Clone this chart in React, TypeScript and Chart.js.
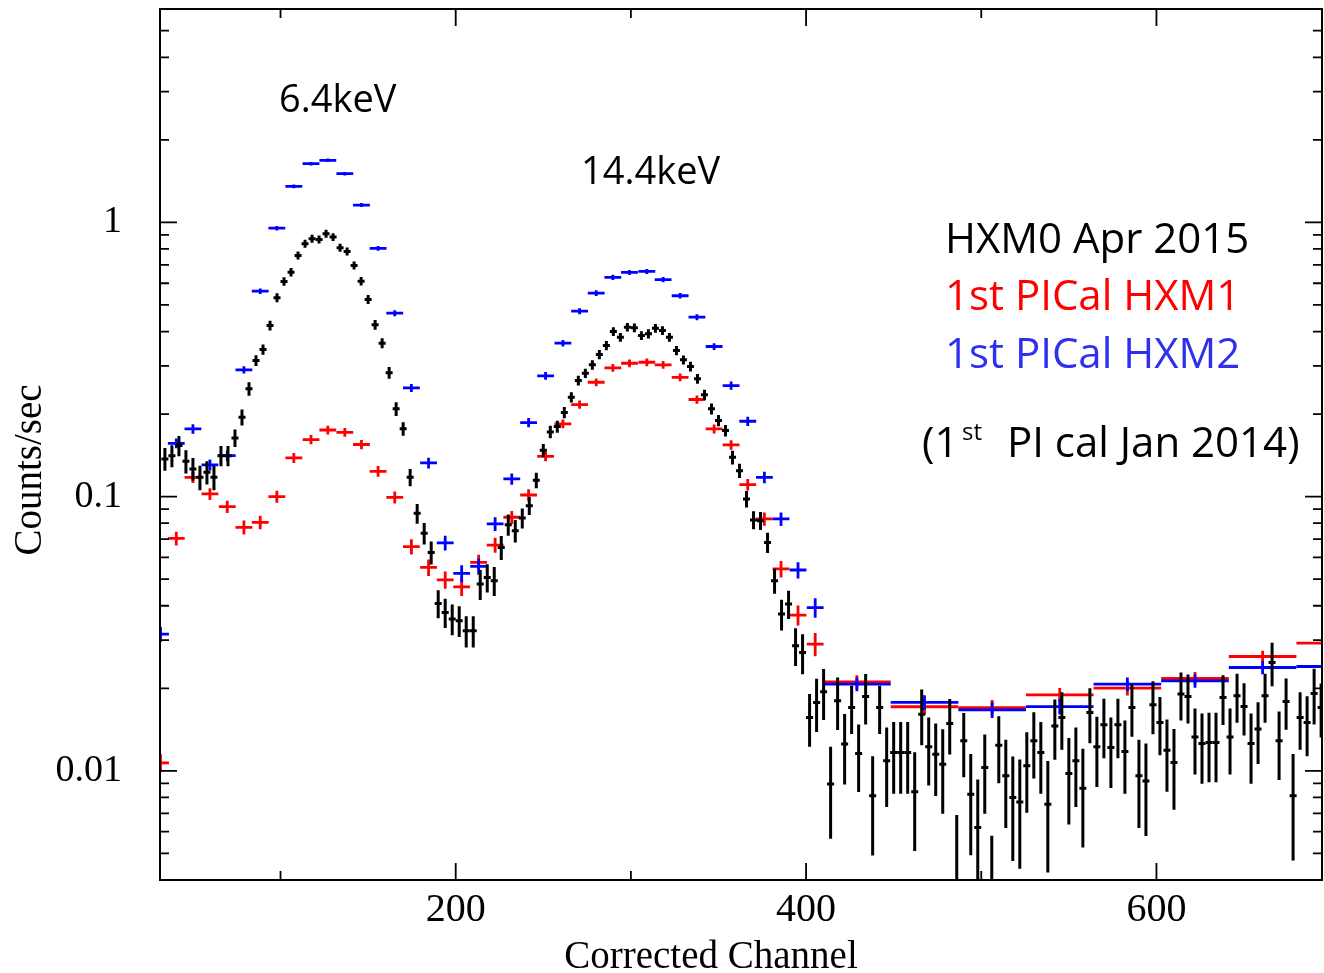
import React, { useEffect, useRef } from "react";
import { Chart, registerables } from "chart.js";

Chart.register(...registerables);

// ---------------- axes ----------------
const X_MIN = 31.2;
const X_MAX = 694.5;
const Y_MIN = 0.004;
const Y_MAX = 6;
const X_TICKS = [200, 400, 600];
const X_MINOR = [100, 300, 500];
const Y_TICKS = [0.01, 0.1, 1];

// ---------------- HXM0 Apr 2015 (black, 4-channel bins) ----------------
const hxm0X = [
  34, 38, 42, 46, 50, 54, 58, 62, 66, 70, 74, 78, 82, 86, 90, 94, 98, 102, 106, 110,
  114, 118, 122, 126, 130, 134, 138, 142, 146, 150, 154, 158, 162, 166, 170, 174, 178, 182, 186, 190,
  194, 198, 202, 206, 210, 214, 218, 222, 226, 230, 234, 238, 242, 246, 250, 254, 258, 262, 266, 270,
  274, 278, 282, 286, 290, 294, 298, 302, 306, 310, 314, 318, 322, 326, 330, 334, 338, 342, 346, 350,
  354, 358, 362, 366, 370, 374, 378, 382, 386, 390, 394, 398, 402, 406, 410, 414, 418, 422, 426, 430,
  434, 438, 442, 446, 450, 454, 458, 462, 466, 470, 474, 478, 482, 486, 490, 494, 498, 502, 506, 510,
  514, 518, 522, 526, 530, 534, 538, 542, 546, 550, 554, 558, 562, 566, 570, 574, 578, 582, 586, 590,
  594, 598, 602, 606, 610, 614, 618, 622, 626, 630, 634, 638, 642, 646, 650, 654, 658, 662, 666, 670,
  674, 678, 682, 686, 690, 694,
];
const hxm0XErr = 2;
const hxm0Y = [
  0.1373, 0.1411, 0.1535, 0.1345, 0.1262, 0.1176, 0.1227, 0.1176, 0.1411, 0.1411,
  0.1637, 0.1948, 0.2472, 0.3135, 0.344, 0.4207, 0.5312, 0.609, 0.6586, 0.7577,
  0.836, 0.872, 0.867, 0.9095, 0.8839, 0.8086, 0.7838, 0.6968, 0.6105, 0.5236,
  0.4232, 0.3627, 0.2828, 0.209, 0.1767, 0.1176, 0.0869, 0.0735, 0.0626, 0.0408,
  0.0378, 0.0358, 0.0353, 0.0324, 0.0324, 0.048, 0.0507, 0.0494, 0.0653, 0.079,
  0.0751, 0.0835, 0.0927, 0.1147, 0.1476, 0.1722, 0.1801, 0.2026, 0.2304, 0.2651,
  0.2818, 0.3024, 0.3298, 0.3557, 0.4, 0.3814, 0.4147, 0.4126, 0.3869, 0.3925,
  0.4112, 0.4034, 0.3814, 0.341, 0.3153, 0.2981, 0.2689, 0.2351, 0.209, 0.1894,
  0.1741, 0.1391, 0.1244, 0.0981, 0.0822, 0.0817, 0.0681, 0.0494, 0.0373, 0.0406,
  0.0286, 0.027, 0.01565, 0.01776, 0.01942, 0.00895, 0.018, 0.01252, 0.01702, 0.01157,
  0.01867, 0.00811, 0.01702, 0.01088, 0.01166, 0.01166, 0.01166, 0.0084, 0.0161, 0.01224,
  0.0115, 0.01058, 0.01488, 0.0035, 0.01287, 0.00822, 0.00621, 0.01028, 0.0026, 0.01241,
  0.00959, 0.00799, 0.0077, 0.01043, 0.01287, 0.01166, 0.00756, 0.01459, 0.01565, 0.00978,
  0.01088, 0.00865, 0.01632, 0.01224, 0.01472, 0.01216, 0.01472, 0.01176, 0.01702, 0.00959,
  0.00919, 0.01741, 0.01501, 0.0119, 0.01072, 0.01905, 0.01867, 0.0133, 0.01258, 0.01269,
  0.01269, 0.01851, 0.0133, 0.01878, 0.01717, 0.01258, 0.0142, 0.01878, 0.02485, 0.01287,
  0.01791, 0.00811, 0.01565, 0.01501, 0.01915, 0.01702,
];
const hxm0YErr = [
  0.013, 0.013, 0.013, 0.013, 0.012, 0.012, 0.012, 0.012, 0.012, 0.012,
  0.012, 0.013, 0.014, 0.014, 0.015, 0.017, 0.02, 0.022, 0.024, 0.026,
  0.028, 0.029, 0.029, 0.03, 0.029, 0.027, 0.026, 0.024, 0.022, 0.02,
  0.017, 0.015, 0.014, 0.012, 0.01, 0.0085, 0.0072, 0.0066, 0.006, 0.0048,
  0.0046, 0.0046, 0.0045, 0.0042, 0.0042, 0.006, 0.006, 0.006, 0.0065, 0.007,
  0.007, 0.007, 0.007, 0.0075, 0.008, 0.009, 0.009, 0.0095, 0.01, 0.011,
  0.011, 0.012, 0.013, 0.014, 0.015, 0.014, 0.015, 0.015, 0.014, 0.015,
  0.015, 0.015, 0.014, 0.013, 0.012, 0.012, 0.011, 0.01, 0.0095, 0.009,
  0.0085, 0.008, 0.0075, 0.0068, 0.0062, 0.0062, 0.0058, 0.0052, 0.0048, 0.0048,
  0.0045, 0.0045, 0.0034, 0.0039, 0.0041, 0.0033, 0.0039, 0.0036, 0.0034, 0.0032,
  0.0039, 0.0032, 0.0034, 0.0035, 0.0034, 0.0034, 0.0034, 0.0033, 0.0037, 0.0034,
  0.0034, 0.0036, 0.0034, 0.0034, 0.0034, 0.0033, 0.0031, 0.0033, 0.0032, 0.0034,
  0.0034, 0.0033, 0.0033, 0.0034, 0.0035, 0.0034, 0.0033, 0.0036, 0.0037, 0.0034,
  0.0035, 0.0034, 0.0037, 0.0035, 0.0036, 0.0035, 0.0036, 0.0035, 0.0037, 0.0034,
  0.0034, 0.0038, 0.0036, 0.0035, 0.0035, 0.0038, 0.0038, 0.0036, 0.0036, 0.0036,
  0.0036, 0.0038, 0.0036, 0.0038, 0.0037, 0.0036, 0.0036, 0.0038, 0.0045, 0.0036,
  0.0038, 0.0034, 0.0037, 0.0037, 0.0044, 0.0038,
];

// ---------------- 1st PICal HXM1 (red) ----------------
const hxm1X = [
  31.5, 40.5, 50.0, 59.7, 69.6, 79.1, 88.4, 97.9, 107.6, 117.4, 127.0, 136.7, 146.2, 155.7, 165.2,
  174.7, 184.5, 194.0, 203.4, 213.1, 222.5, 232.0, 241.6, 251.3, 261.2, 270.7, 280.2, 289.7, 299.2,
  309.1, 318.4, 328.1, 337.7, 347.5, 357.2, 366.7, 376.2, 385.7, 395.4, 405.2,
  429.0, 467.6, 506.2, 544.8, 583.4, 622.0, 660.6, 699.2,
];
const hxm1XErr = [
  4.8, 4.8, 4.8, 4.8, 4.8, 4.8, 4.8, 4.8, 4.8, 4.8, 4.8, 4.8, 4.8, 4.8, 4.8,
  4.8, 4.8, 4.8, 4.8, 4.8, 4.8, 4.8, 4.8, 4.8, 4.8, 4.8, 4.8, 4.8, 4.8,
  4.8, 4.8, 4.8, 4.8, 4.8, 4.8, 4.8, 4.8, 4.8, 4.8, 4.8,
  19.3, 19.3, 19.3, 19.3, 19.3, 19.3, 19.3, 19.3,
];
const hxm1Y = [
  0.0107, 0.0704, 0.1176, 0.1023, 0.0919, 0.0773, 0.0806, 0.1, 0.1384, 0.1615, 0.175, 0.1716, 0.1549, 0.1237, 0.0994,
  0.0657, 0.0552, 0.0497, 0.0469, 0.0576, 0.0666, 0.0841, 0.1014, 0.1403, 0.1842, 0.2167, 0.2613, 0.2948, 0.3065,
  0.309, 0.3024, 0.2724, 0.226, 0.1766, 0.1544, 0.1106, 0.0829, 0.0545, 0.037, 0.029,
  0.0211, 0.01713, 0.01702, 0.01894, 0.02003, 0.02172, 0.02612, 0.02924,
];
const hxm1YErr = [
  0.0008, 0.004, 0.0055, 0.005, 0.0048, 0.0045, 0.0045, 0.005, 0.0058, 0.0062, 0.0065, 0.0064, 0.006, 0.0055, 0.005,
  0.0042, 0.0038, 0.0036, 0.0035, 0.0038, 0.0042, 0.0046, 0.005, 0.0058, 0.0068, 0.0075, 0.0085, 0.0095, 0.01,
  0.01, 0.01, 0.009, 0.008, 0.0068, 0.0062, 0.0054, 0.0046, 0.0038, 0.0031, 0.0028,
  0.0012, 0.0011, 0.0011, 0.0011, 0.0012, 0.0012, 0.0013, 0.0014,
];

// ---------------- 1st PICal HXM2 (blue) ----------------
const hxm2X = hxm1X;
const hxm2XErr = hxm1XErr;
const hxm2Y = [
  0.0315, 0.1565, 0.1767, 0.1305, 0.1411, 0.29, 0.5615, 0.9532, 1.353, 1.637, 1.684, 1.505, 1.157, 0.8037, 0.4667,
  0.2492, 0.1327, 0.0678, 0.0525, 0.0557, 0.0795, 0.116, 0.1862, 0.2758, 0.3627, 0.4745, 0.5521, 0.6304, 0.657,
  0.6627, 0.6181, 0.5402, 0.4512, 0.3528, 0.2541, 0.1883, 0.1176, 0.0829, 0.054, 0.0394,
  0.0207, 0.01776, 0.0167, 0.01716, 0.0207, 0.0213, 0.02382, 0.02402,
];
const hxm2YErr = [
  0.002, 0.0065, 0.007, 0.006, 0.0062, 0.009, 0.013, 0.018, 0.022, 0.025, 0.025, 0.023, 0.02, 0.016, 0.012,
  0.0085, 0.006, 0.0042, 0.0037, 0.0038, 0.0046, 0.0055, 0.0072, 0.0088, 0.01, 0.012, 0.013, 0.014, 0.014,
  0.014, 0.0135, 0.0125, 0.0115, 0.01, 0.0086, 0.0072, 0.0056, 0.0047, 0.0037, 0.0032,
  0.0012, 0.0011, 0.0011, 0.0011, 0.0012, 0.0012, 0.0013, 0.0013,
];

// ---------------- text ----------------
const Y_TITLE = "Counts/sec";
const X_TITLE = "Corrected Channel";
const PEAK_LABELS = ["6.4keV", "14.4keV"];
const LEGEND_LINES = ["HXM0 Apr 2015", "1st PICal HXM1", "1st PICal HXM2"];
const NOTE_PARTS = ["(1", "st", " PI cal Jan 2014)"];

const BLACK = "#000000";
const RED = "#ff0000";
const BLUE = "#0000ff";
const BLUE_TEXT = "#2f2fee";

function buildPoints(xs: number[], xe: number[] | number, ys: number[], ye: number[]) {
  return xs.map((x, i) => ({
    x,
    y: ys[i],
    xe: Array.isArray(xe) ? xe[i] : xe,
    ye: ye[i],
  }));
}

const errorBarPlugin = {
  id: "errorBars",
  afterDatasetsDraw(chart: any) {
    const { ctx, chartArea, scales } = chart;
    const xs = scales.x;
    const ys = scales.y;
    ctx.save();
    ctx.beginPath();
    ctx.rect(chartArea.left, chartArea.top, chartArea.right - chartArea.left, chartArea.bottom - chartArea.top);
    ctx.clip();
    chart.data.datasets.forEach((ds: any) => {
      ctx.strokeStyle = ds.borderColor;
      ctx.lineWidth = ds.errWidth;
      ctx.lineCap = "butt";
      ds.data.forEach((p: any) => {
        const px = xs.getPixelForValue(p.x);
        const py = ys.getPixelForValue(p.y);
        const xl = xs.getPixelForValue(p.x - p.xe);
        const xr = xs.getPixelForValue(p.x + p.xe);
        const lo = p.y - p.ye;
        const yb = lo > 0 ? ys.getPixelForValue(lo) : chartArea.bottom + 20;
        const yt = ys.getPixelForValue(p.y + p.ye);
        ctx.beginPath();
        ctx.moveTo(xl, py);
        ctx.lineTo(xr, py);
        ctx.moveTo(px, yt);
        ctx.lineTo(px, yb);
        ctx.stroke();
      });
    });
    ctx.restore();
  },
};

const frameAndTextPlugin = {
  id: "frameAndText",
  afterDraw(chart: any) {
    const { ctx, chartArea, scales } = chart;
    const { left, right, top, bottom } = chartArea;
    const xs = scales.x;
    const ys = scales.y;
    ctx.save();
    ctx.strokeStyle = "#000";
    ctx.lineWidth = 2;
    ctx.strokeRect(left, top, right - left, bottom - top);

    ctx.lineWidth = 1.8;
    const MAJ = 17;
    const MIN = 9;
    // y ticks (log)
    for (let d = -3; d <= 0; d++) {
      for (let k = 1; k <= 9; k++) {
        const v = k * Math.pow(10, d);
        if (v < Y_MIN || v > Y_MAX) continue;
        const py = ys.getPixelForValue(v);
        const len = k === 1 ? MAJ : MIN;
        ctx.beginPath();
        ctx.moveTo(left, py);
        ctx.lineTo(left + len, py);
        ctx.moveTo(right, py);
        ctx.lineTo(right - len, py);
        ctx.stroke();
      }
    }
    const xt = [...X_TICKS.map((v) => [v, MAJ]), ...X_MINOR.map((v) => [v, MIN])];
    xt.forEach(([v, len]) => {
      const px = xs.getPixelForValue(v);
      ctx.beginPath();
      ctx.moveTo(px, bottom);
      ctx.lineTo(px, bottom - len);
      ctx.moveTo(px, top);
      ctx.lineTo(px, top + len);
      ctx.stroke();
    });

    // axis titles
    ctx.fillStyle = "#000";
    ctx.font = '39px "Liberation Serif"';
    ctx.textAlign = "center";
    ctx.textBaseline = "alphabetic";
    ctx.fillText(X_TITLE, 711, 968);
    ctx.save();
    ctx.translate(41, 470);
    ctx.rotate(-Math.PI / 2);
    ctx.fillText(Y_TITLE, 0, 0);
    ctx.restore();

    // peak labels
    ctx.textAlign = "left";
    ctx.font = '38px "Open Sans"';
    ctx.fillText(PEAK_LABELS[0], 279, 112);
    ctx.fillText(PEAK_LABELS[1], 581, 184);

    // legend
    ctx.font = '42px "Open Sans"';
    ctx.fillStyle = BLACK;
    ctx.fillText(LEGEND_LINES[0], 945, 253);
    ctx.fillStyle = RED;
    ctx.fillText(LEGEND_LINES[1], 945, 310);
    ctx.fillStyle = BLUE_TEXT;
    ctx.fillText(LEGEND_LINES[2], 945, 368);

    ctx.fillStyle = BLACK;
    ctx.fillText(NOTE_PARTS[0], 922, 457);
    ctx.font = '24px "Open Sans"';
    ctx.fillText(NOTE_PARTS[1], 962, 440);
    ctx.font = '42px "Open Sans"';
    ctx.fillText(NOTE_PARTS[2], 996, 457);
    ctx.restore();
  },
};

export default function App() {
  const canvasRef = useRef<HTMLCanvasElement | null>(null);

  useEffect(() => {
    const canvas = canvasRef.current;
    if (!canvas) return;
    const chart = new Chart(canvas, {
      type: "scatter",
      data: {
        datasets: [
          {
            label: "1st PICal HXM1",
            data: buildPoints(hxm1X, hxm1XErr, hxm1Y, hxm1YErr),
            borderColor: RED,
            backgroundColor: RED,
            pointRadius: 0,
            showLine: false,
            errWidth: 2.8,
          } as any,
          {
            label: "1st PICal HXM2",
            data: buildPoints(hxm2X, hxm2XErr, hxm2Y, hxm2YErr),
            borderColor: BLUE,
            backgroundColor: BLUE,
            pointRadius: 0,
            showLine: false,
            errWidth: 2.8,
          } as any,
          {
            label: "HXM0 Apr 2015",
            data: buildPoints(hxm0X, hxm0XErr, hxm0Y, hxm0YErr),
            borderColor: BLACK,
            backgroundColor: BLACK,
            pointRadius: 0,
            showLine: false,
            errWidth: 3,
          } as any,
        ],
      },
      options: {
        animation: false,
        responsive: false,
        devicePixelRatio: 1,
        layout: { padding: { top: 9, right: 2, left: 0, bottom: 0 } },
        plugins: {
          legend: { display: false },
          tooltip: { enabled: false },
        },
        events: [],
        scales: {
          x: {
            type: "linear",
            min: X_MIN,
            max: X_MAX,
            grid: { display: false, drawTicks: false },
            border: { display: false },
            afterBuildTicks: (s: any) => {
              s.ticks = X_TICKS.map((v) => ({ value: v }));
            },
            afterFit: (s: any) => {
              s.height = 93;
              s.paddingLeft = 0;
              s.paddingRight = 0;
            },
            ticks: {
              color: "#000",
              font: { family: "Liberation Serif", size: 40 },
              padding: 6,
              maxRotation: 0,
              autoSkip: false,
              callback: (v: any) => String(v),
            },
          },
          y: {
            type: "logarithmic",
            min: Y_MIN,
            max: Y_MAX,
            grid: { display: false, drawTicks: false },
            border: { display: false },
            afterBuildTicks: (s: any) => {
              s.ticks = Y_TICKS.map((v) => ({ value: v }));
            },
            afterFit: (s: any) => {
              s.width = 160;
              s.paddingTop = 0;
              s.paddingBottom = 0;
            },
            ticks: {
              color: "#000",
              font: { family: "Liberation Serif", size: 38 },
              padding: 38,
              autoSkip: false,
              callback: (v: any) => String(v),
            },
          },
        },
      } as any,
      plugins: [errorBarPlugin, frameAndTextPlugin],
    });
    return () => chart.destroy();
  }, []);

  return (
    <div style={{ position: "fixed", left: 0, top: 0, width: 1324, height: 973, background: "#fff", overflow: "hidden" }}>
      <canvas ref={canvasRef} width={1324} height={973} style={{ display: "block" }} />
    </div>
  );
}
